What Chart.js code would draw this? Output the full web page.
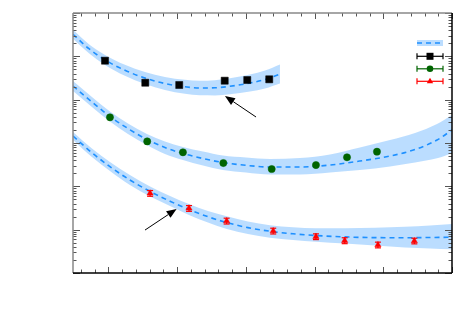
<!DOCTYPE html>
<html>
<head>
<meta charset="utf-8">
<script src="https://cdn.jsdelivr.net/npm/chart.js@4/dist/chart.umd.min.js"></script>
<style>
html,body{margin:0;padding:0;background:#fff;}
#wrap{width:472px;height:314px;}
</style>
</head>
<body>
<div id="wrap"><canvas id="c" width="472" height="314"></canvas></div>
<script>
// ---- data ----
const blackCurveX = [-2.58,-1.42,-0.25,1.20,2.66,4.11,5.57,6.66,7.75,8.84,10.30,11.39,12.48];
const blackCurve  = [0.3224,0.1500,0.08271,0.04760,0.03162,0.02360,0.01981,0.01858,0.01878,0.02034,0.02424,0.02919,0.03911];
const blackUpper  = [0.4094,0.1905,0.1079,0.06374,0.04348,0.03335,0.02874,0.02739,0.02811,0.03112,0.03808,0.04708,0.06481];
const blackLower  = [0.2539,0.1181,0.06343,0.03555,0.02300,0.01670,0.01365,0.01261,0.01255,0.01329,0.01543,0.01810,0.02360];
const blackPtsX   = [-0.25,2.68,5.15,8.46,10.1,11.7];
const blackPts    = [0.0793,0.0246,0.0218,0.0274,0.0284,0.0295];

const greenCurveX = [-2.58,-1.20,0.11,1.42,2.80,4.11,5.42,6.88,8.33,10.01,11.75,13.94,16.12,18.30,20.49,22.31,23.91,25];
const greenCurve  = [0.02067,0.008834,0.004087,0.002160,0.001204,0.0007868,0.0005721,0.0004386,0.0003546,0.0003055,0.0002791,0.0002791,0.0003105,0.0003840,0.0005008,0.0007075,0.001172,0.001994];
const greenUpper  = [0.02695,0.01152,0.005330,0.002818,0.001612,0.001082,0.0008078,0.0006361,0.0005141,0.0004625,0.0004270,0.0004502,0.0005423,0.0007868,0.001172,0.001700,0.002743,0.004425];
const greenLower  = [0.01584,0.006771,0.003133,0.001612,0.0008985,0.0005571,0.0004049,0.0003024,0.0002380,0.0002084,0.0001873,0.0001873,0.0002084,0.0002380,0.0002867,0.0003546,0.0004433,0.0005780];
const greenPtsX   = [0.11,2.82,5.42,8.36,11.88,15.10,17.36,19.54];
const greenPts    = [0.00392,0.00109,0.000610,0.000345,0.000251,0.000310,0.000468,0.000630];

const redCurveX = [-2.58,-1.20,0.11,1.56,3.03,4.48,5.86,7.24,8.62,10.15,11.75,13.43,15.10,17.21,19.40,21.58,23.40,25];
const redCurve  = [0.001450,0.0005970,0.0002851,0.0001399,7.634e-5,4.535e-5,2.917e-5,1.990e-5,1.454e-5,1.115e-5,9.208e-6,8.019e-6,7.326e-6,6.803e-6,6.553e-6,6.519e-6,6.588e-6,6.693e-6];
const redUpper  = [0.001793,0.0007463,0.0003640,0.0001824,9.904e-5,5.977e-5,3.908e-5,2.694e-5,2.033e-5,1.542e-5,1.260e-5,1.133e-5,1.074e-5,1.074e-5,1.103e-5,1.163e-5,1.247e-5,1.350e-5];
const redLower  = [0.001172,0.0004750,0.0002257,0.0001072,5.821e-5,3.514e-5,2.178e-5,1.462e-5,1.035e-5,7.937e-6,6.481e-6,5.770e-6,5.271e-6,4.792e-6,4.307e-6,3.873e-6,3.672e-6,3.519e-6];
const redPtsX   = [3.03,5.86,8.60,11.99,15.10,17.19,19.61,22.26];
const redPts    = [6.90e-5,3.11e-5,1.58e-5,9.31e-6,6.88e-6,5.56e-6,4.42e-6,5.47e-6];
const redErrHi  = [8.0e-5,3.6e-5,1.84e-5,1.08e-5,8.0e-6,6.5e-6,5.15e-6,6.35e-6];
const redErrLo  = [5.9e-5,2.65e-5,1.35e-5,7.95e-6,5.9e-6,4.75e-6,3.8e-6,4.7e-6];

// arrows [x_tail, y_tail, x_head, y_head] in data units
const arrows = [[10.74,0.00398,8.48,0.0121],[2.66,9.8e-6,4.96,3.0e-5]];

const BAND = 'rgba(30,144,255,0.3)';
const LINE = '#1e90ff';
const xy = (xs, ys) => xs.map((x,i)=>({x:x,y:ys[i]}));

function bandSets(xs, up, lo){
  return [
    {data:xy(xs,up), borderWidth:0, pointRadius:0, fill:'+1', backgroundColor:BAND, cubicInterpolationMode:'monotone', order:5},
    {data:xy(xs,lo), borderWidth:0, pointRadius:0, fill:false, cubicInterpolationMode:'monotone', order:5}
  ];
}
function curveSet(xs, ys){
  return {data:xy(xs,ys), borderColor:LINE, borderWidth:1.6, borderDash:[5,4], pointRadius:0, fill:false, cubicInterpolationMode:'monotone', order:3};
}
function ptsSet(xs, ys, style, color, r){
  return {data:xy(xs,ys), showLine:false, pointStyle:style, pointRadius:r, pointBackgroundColor:color, pointBorderColor:color, pointBorderWidth:0.5, order:1};
}

const datasets = [
  ...bandSets(blackCurveX, blackUpper, blackLower),
  ...bandSets(greenCurveX, greenUpper, greenLower),
  ...bandSets(redCurveX, redUpper, redLower),
  curveSet(blackCurveX, blackCurve),
  curveSet(greenCurveX, greenCurve),
  curveSet(redCurveX, redCurve),
  ptsSet(blackPtsX, blackPts, 'rect', '#000000', 5),
  ptsSet(greenPtsX, greenPts, 'circle', '#006400', 3.6),
  ptsSet(redPtsX, redPts, 'triangle', '#ff0000', 3.6)
];

function line(ctx,x1,y1,x2,y2){ctx.beginPath();ctx.moveTo(x1,y1);ctx.lineTo(x2,y2);ctx.stroke();}

const errPlugin = {
  id:'err',
  afterDatasetsDraw(chart){
    const {ctx, scales:{x,y}} = chart;
    ctx.save();
    ctx.strokeStyle='#ff0000'; ctx.lineWidth=1.2;
    redPtsX.forEach((xv,i)=>{
      const px=x.getPixelForValue(xv), hi=y.getPixelForValue(redErrHi[i]), lo=y.getPixelForValue(redErrLo[i]);
      line(ctx,px,hi,px,lo); line(ctx,px-3,hi,px+3,hi); line(ctx,px-3,lo,px+3,lo);
    });
    ctx.strokeStyle='#000'; ctx.fillStyle='#000'; ctx.lineWidth=1;
    arrows.forEach(a=>{
      const x1=x.getPixelForValue(a[0]), y1=y.getPixelForValue(a[1]);
      const x2=x.getPixelForValue(a[2]), y2=y.getPixelForValue(a[3]);
      const ang=Math.atan2(y2-y1,x2-x1), L=10, W=4;
      const bx=x2-L*Math.cos(ang), by=y2-L*Math.sin(ang);
      line(ctx,x1,y1,bx,by);
      ctx.beginPath(); ctx.moveTo(x2,y2);
      ctx.lineTo(bx+W*Math.sin(ang), by-W*Math.cos(ang));
      ctx.lineTo(bx-W*Math.sin(ang), by+W*Math.cos(ang));
      ctx.closePath(); ctx.fill();
    });
    ctx.restore();
  }
};

const framePlugin = {
  id:'frame',
  afterDraw(chart){
    const {ctx, chartArea:a, scales:{x,y}} = chart;
    ctx.save();
    ctx.lineWidth=1; ctx.strokeStyle='#555';
    for(let t=Math.ceil(x.min); t<=x.max; t++){
      const px=Math.round(x.getPixelForValue(t))+0.5, len=(t%5===0)?6:3.5;
      line(ctx,px,a.bottom,px,a.bottom-len); line(ctx,px,a.top,px,a.top+len);
    }
    for(let d=-6; d<=0; d++) for(let m=1;m<=9;m++){
      const v=m*Math.pow(10,d);
      if(v<y.min*0.999||v>y.max*1.001) continue;
      const py=Math.round(y.getPixelForValue(v))+0.5, len=(m===1)?7:3.5;
      line(ctx,a.left,py,a.left+len,py); line(ctx,a.right,py,a.right-len,py);
    }
    ctx.lineWidth=1.5;
    ctx.strokeStyle='#888';
    line(ctx,a.left,a.bottom,a.left,a.top); line(ctx,a.left,a.top,a.right,a.top);
    ctx.strokeStyle='#000';
    line(ctx,a.right,a.top,a.right,a.bottom); line(ctx,a.left,a.bottom,a.right,a.bottom);
    // legend
    const lx1=a.right-35, lx2=a.right-9, mx=(lx1+lx2)/2;
    let ly=a.top+30;
    ctx.fillStyle=BAND; ctx.fillRect(lx1,ly-3,lx2-lx1,6);
    ctx.strokeStyle=LINE; ctx.lineWidth=1.6; ctx.setLineDash([5,4]); line(ctx,lx1,ly,lx2,ly); ctx.setLineDash([]);
    const items=[['#000000','rect'],['#006400','circle'],['#ff0000','triangle']];
    items.forEach((it,i)=>{
      const yy=a.top+43.3+i*12.5;
      ctx.strokeStyle=it[0]; ctx.fillStyle=it[0]; ctx.lineWidth=1.2;
      line(ctx,lx1,yy,lx2,yy); line(ctx,lx1,yy-3,lx1,yy+3); line(ctx,lx2,yy-3,lx2,yy+3);
      ctx.beginPath();
      if(it[1]==='rect'){ctx.rect(mx-3.5,yy-3.5,7,7);}
      else if(it[1]==='circle'){ctx.arc(mx,yy,3.3,0,Math.PI*2);}
      else {ctx.moveTo(mx,yy-3.6);ctx.lineTo(mx+3.2,yy+2);ctx.lineTo(mx-3.2,yy+2);ctx.closePath();}
      ctx.fill();
    });
    ctx.restore();
  }
};

new Chart(document.getElementById('c'), {
  type:'line',
  data:{datasets:datasets},
  options:{
    responsive:false, animation:false, devicePixelRatio:1,
    layout:{padding:{left:73, top:13, right:20, bottom:41}},
    plugins:{legend:{display:false}, tooltip:{enabled:false}},
    scales:{
      x:{type:'linear', min:-2.58, max:25, display:false},
      y:{type:'logarithmic', min:1e-6, max:1, display:false}
    }
  },
  plugins:[errPlugin, framePlugin]
});
</script>
</body>
</html>
